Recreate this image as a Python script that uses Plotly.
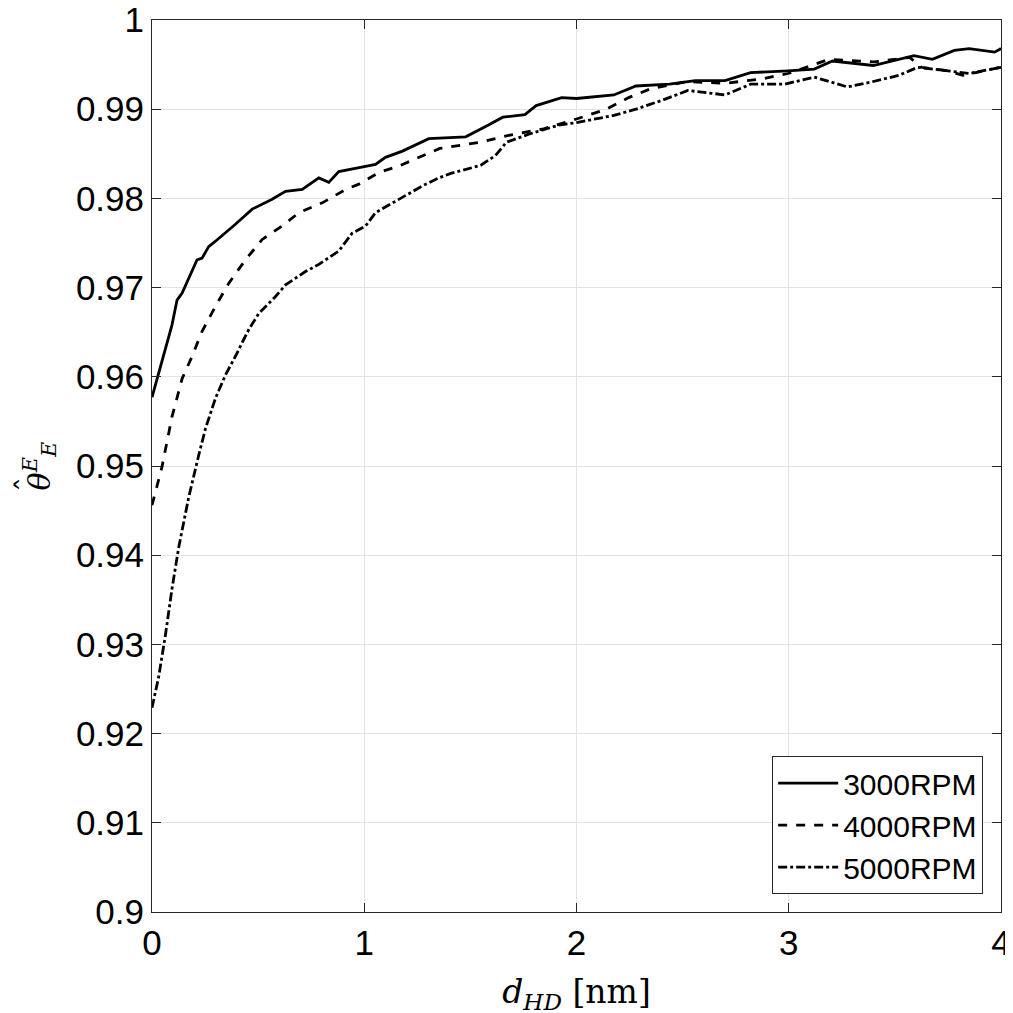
import plotly.graph_objects as go

# 3000 RPM (solid)
x_3000 = [0.0, 0.094, 0.118, 0.142, 0.212, 0.236, 0.267, 0.299, 0.393, 0.472, 0.566, 0.629,
          0.708, 0.786, 0.833, 0.88, 1.006, 1.053, 1.1, 1.18, 1.304, 1.478, 1.583, 1.653,
          1.757, 1.81, 1.93, 2.0, 2.176, 2.28, 2.438, 2.56, 2.70, 2.82, 2.997, 3.12, 3.206,
          3.398, 3.59, 3.677, 3.78, 3.85, 3.97, 4.0]
y_3000 = [0.9577, 0.9658, 0.9686, 0.9694, 0.9731, 0.9733, 0.9746, 0.9752, 0.9771, 0.9788,
          0.9799, 0.9808, 0.981, 0.9823, 0.9818, 0.983, 0.9836, 0.9838, 0.9846, 0.9853,
          0.9867, 0.9869, 0.9882, 0.9891, 0.9894, 0.9904, 0.9913, 0.9912, 0.9916, 0.9926,
          0.9928, 0.9932, 0.9932, 0.9941, 0.9943, 0.9945, 0.9954, 0.9949, 0.996, 0.9956,
          0.9966, 0.9968, 0.9964, 0.9968]

# 4000 RPM (dashed)
x_4000 = [0.0, 0.047, 0.094, 0.142, 0.189, 0.236, 0.299, 0.362, 0.44, 0.519, 0.613, 0.692,
          0.802, 0.912, 0.975, 1.069, 1.16, 1.258, 1.356, 1.548, 1.687, 1.845, 2.0, 2.14,
          2.246, 2.35, 2.525, 2.7, 2.874, 2.997, 3.19, 3.4, 3.57, 3.625, 3.75, 3.82, 3.92, 4.0]
y_4000 = [0.9456, 0.9499, 0.9555, 0.9598, 0.9623, 0.9651, 0.9679, 0.9705, 0.9731, 0.9754,
          0.9769, 0.9784, 0.9795, 0.981, 0.9816, 0.9829, 0.9836, 0.9846, 0.9856, 0.9863,
          0.9871, 0.9878, 0.9889, 0.99, 0.9913, 0.9923, 0.9931, 0.9929, 0.9934, 0.994,
          0.9956, 0.9953, 0.9958, 0.9947, 0.9943, 0.9938, 0.9943, 0.9947]

# 5000 RPM (dash-dot)
x_5000 = [0.0, 0.031, 0.063, 0.094, 0.126, 0.173, 0.22, 0.252, 0.299, 0.346, 0.393, 0.456,
          0.503, 0.582, 0.629, 0.723, 0.786, 0.88, 0.943, 1.006, 1.053, 1.164, 1.274, 1.352,
          1.408, 1.548, 1.618, 1.67, 1.775, 1.914, 2.0, 2.176, 2.28, 2.403, 2.525, 2.7, 2.82,
          2.98, 3.12, 3.276, 3.38, 3.52, 3.607, 3.75, 3.85, 4.0]
y_5000 = [0.9229, 0.9263, 0.931, 0.9362, 0.9409, 0.9465, 0.9512, 0.9542, 0.9576, 0.9602,
          0.9623, 0.9653, 0.9671, 0.969, 0.9703, 0.9718, 0.9726, 0.9741, 0.9761, 0.9769,
          0.9784, 0.9799, 0.9814, 0.9823, 0.9828, 0.9837, 0.9848, 0.9863, 0.9872, 0.9882,
          0.9885, 0.9893, 0.99, 0.991, 0.9921, 0.9916, 0.9928, 0.9928, 0.9936, 0.9925,
          0.993, 0.9938, 0.9947, 0.9943, 0.994, 0.9947]

y_ticks = [0.9, 0.91, 0.92, 0.93, 0.94, 0.95, 0.96, 0.97, 0.98, 0.99, 1.0]
y_tick_text = ['0.9', '0.91', '0.92', '0.93', '0.94', '0.95', '0.96', '0.97', '0.98', '0.99', '1']
x_ticks = [0, 1, 2, 3, 4]

series = [
    ('3000RPM', x_3000, y_3000, 'solid'),
    ('4000RPM', x_4000, y_4000, 'dash'),
    ('5000RPM', x_5000, y_5000, 'dashdot'),
]

SERIF = 'DejaVu Serif, Liberation Serif'
SANS = 'Liberation Sans, Arial'

fig = go.Figure()
for name, xs, ys, dash in series:
    fig.add_trace(go.Scatter(
        x=xs, y=ys, mode='lines', name=name,
        line=dict(color='black', width=2.8, dash=dash),
    ))

axis_common = dict(
    showline=True, linecolor='#262626', linewidth=1, mirror='ticks',
    ticks='inside', ticklen=9, tickcolor='#262626',
    showgrid=True, gridcolor='#e3e3e3', gridwidth=1, zeroline=False,
    automargin=False, ticklabeloverflow='allow',
    tickfont=dict(family=SANS, size=35, color='black'),
)

fig.update_xaxes(
    range=[0, 4], tickvals=x_ticks, **axis_common,
    title=dict(text='<i>d</i><sub><i>HD</i></sub> [nm]', standoff=18,
               font=dict(family=SERIF, size=33, color='black')),
)
fig.update_yaxes(
    range=[0.9, 1.0], tickvals=y_ticks, ticktext=y_tick_text, **axis_common,
    title=dict(text='<i>θ</i><sup><i>E</i></sup><sub><i>E</i></sub>', standoff=16,
               font=dict(family=SERIF, size=30, color='black')),
)

# hat over theta
fig.add_annotation(
    text='ˆ', xref='paper', yref='paper', x=-0.171, y=0.479,
    showarrow=False, textangle=-90,
    font=dict(family=SERIF, size=30, color='black'),
)

fig.update_layout(
    width=1013, height=1013,
    margin=dict(l=144, r=20, t=12, b=109),
    plot_bgcolor='white', paper_bgcolor='white',
    showlegend=True,
    legend=dict(
        x=0.979, y=0.02, xanchor='right', yanchor='bottom',
        bgcolor='white', bordercolor='#262626', borderwidth=1,
        font=dict(family=SANS, size=30, color='black'),
        itemwidth=60, tracegroupgap=0,
    ),
)

fig.write_html("out.html")
